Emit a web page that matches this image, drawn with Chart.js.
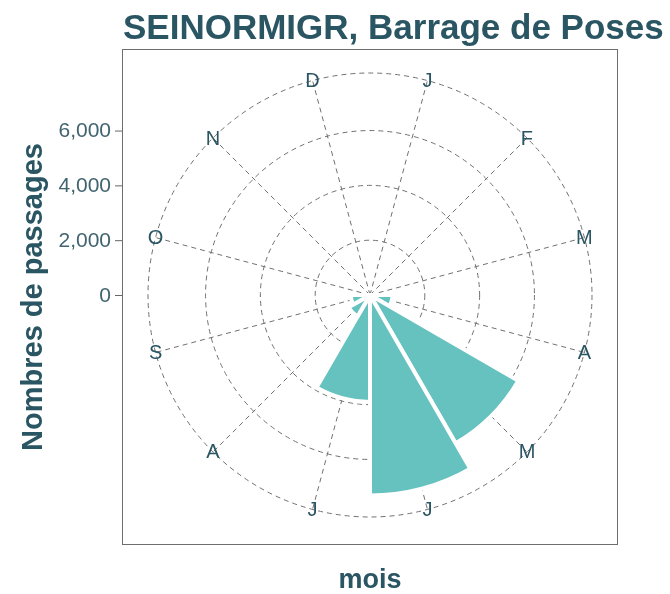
<!DOCTYPE html>
<html>
<head>
<meta charset="utf-8">
<script src="https://cdn.jsdelivr.net/npm/chart.js@4/dist/chart.umd.min.js"></script>
<style>
  html, body { margin: 0; padding: 0; background: #fff; }
  #wrap { width: 670px; height: 594px; }
</style>
</head>
<body>
<div id="wrap"><canvas id="chart" width="670" height="594"></canvas></div>
<script>
// months, clockwise from the top
var months = ['J', 'F', 'M', 'A', 'M', 'J', 'J', 'A', 'S', 'O', 'N', 'D'];
// monthly counts
var passages = [0, 0, 0, 820, 6250, 7320, 3900, 900, 700, 0, 0, 0];
// radial grid circles / left axis labels
var rTicks = [0, 2000, 4000, 6000];
var rMax = 8100;

var titleText = 'SEINORMIGR, Barrage de Poses';
var yTitle = 'Nombres de passages';
var xTitle = 'mois';

var textCol = '#2a5562';
var tickCol = '#41646f';
var gridCol = '#707070';
var barCol = '#66c2bf';

var decor = {
  id: 'decor',
  beforeDatasetsDraw: function(chart){
    var s = chart.scales.r, ctx = chart.ctx;
    ctx.save();
    // spokes through month centres
    ctx.strokeStyle = gridCol;
    ctx.lineWidth = 1;
    ctx.setLineDash([5, 4]);
    for (var i = 0; i < months.length; i++) {
      var p = s.getPointPosition(i, s.drawingArea, Math.PI / months.length);
      ctx.beginPath();
      ctx.moveTo(s.xCenter, s.yCenter);
      ctx.lineTo(p.x, p.y);
      ctx.stroke();
    }
    ctx.restore();
  },
  afterDraw: function(chart){
    var s = chart.scales.r, ctx = chart.ctx;
    ctx.save();
    // panel border
    ctx.strokeStyle = '#6e6e6e';
    ctx.lineWidth = 1;
    ctx.strokeRect(122.5, 49.5, 495, 495);

    // month labels sitting on the outer circle
    ctx.fillStyle = textCol;
    ctx.font = '20px "Liberation Sans", Arial, sans-serif';
    ctx.textAlign = 'center';
    ctx.textBaseline = 'middle';
    for (var i = 0; i < months.length; i++) {
      var p = s.getPointPosition(i, s.drawingArea, Math.PI / months.length);
      ctx.fillText(chart.data.labels[i], p.x, p.y + 1);
    }

    // left radial axis
    ctx.textAlign = 'right';
    ctx.font = '21px "Liberation Sans", Arial, sans-serif';
    rTicks.forEach(function(v){
      var y = s.yCenter - s.getDistanceFromCenterForValue(v);
      ctx.strokeStyle = '#666';
      ctx.beginPath();
      ctx.moveTo(115, y + 0.5);
      ctx.lineTo(122, y + 0.5);
      ctx.stroke();
      ctx.fillStyle = tickCol;
      ctx.fillText(v.toLocaleString('en-US'), 111, y + 1);
    });

    // titles
    ctx.fillStyle = textCol;
    ctx.font = 'bold 35px "Liberation Sans", Arial, sans-serif';
    ctx.textAlign = 'left';
    ctx.textBaseline = 'alphabetic';
    ctx.fillText(titleText, 123, 39);

    ctx.font = 'bold 27px "Liberation Sans", Arial, sans-serif';
    ctx.textAlign = 'center';
    ctx.fillText(xTitle, 370, 588);

    ctx.translate(34, 297);
    ctx.rotate(-Math.PI / 2);
    ctx.font = 'bold 29px "Liberation Sans", Arial, sans-serif';
    ctx.textBaseline = 'middle';
    ctx.fillText(yTitle, 0, 0);
    ctx.restore();
  }
};

new Chart(document.getElementById('chart'), {
  type: 'polarArea',
  data: {
    labels: months,
    datasets: [{
      data: passages,
      backgroundColor: barCol,
      borderColor: '#ffffff',
      borderWidth: 4
    }]
  },
  options: {
    responsive: false,
    animation: false,
    layout: { padding: { left: 148, right: 78, top: 73, bottom: 77 } },
    plugins: {
      legend: { display: false },
      title: { display: false },
      tooltip: { enabled: false }
    },
    scales: {
      r: {
        min: 0,
        max: rMax,
        startAngle: 0,
        afterBuildTicks: function(axis){
          axis.ticks = rTicks.concat([rMax]).map(function(v){ return { value: v }; });
        },
        ticks: { display: false },
        grid: { circular: true, color: gridCol, lineWidth: 1, borderDash: [5, 4] },
        border: { dash: [5, 4] },
        angleLines: { display: false },
        pointLabels: { display: false }
      }
    }
  },
  plugins: [decor]
});
</script>
</body>
</html>
